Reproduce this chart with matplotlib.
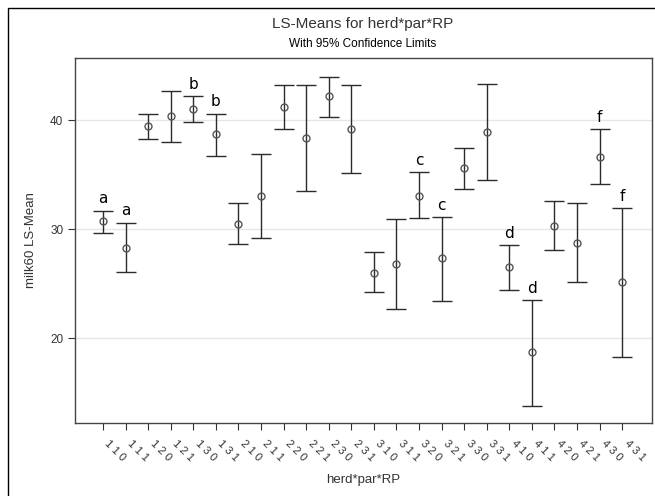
import matplotlib
matplotlib.use("Agg")
import matplotlib.pyplot as plt
from matplotlib.patches import Rectangle

# herd*par*RP levels
levels = ["1 1 0", "1 1 1", "1 2 0", "1 2 1", "1 3 0", "1 3 1",
          "2 1 0", "2 1 1", "2 2 0", "2 2 1", "2 3 0", "2 3 1",
          "3 1 0", "3 1 1", "3 2 0", "3 2 1", "3 3 0", "3 3 1",
          "4 1 0", "4 1 1", "4 2 0", "4 2 1", "4 3 0", "4 3 1"]

# LS-means and 95% limits
means = [30.7, 28.3, 39.5, 40.4, 41.0, 38.7,
         30.5, 33.0, 41.2, 38.4, 42.2, 39.2,
         26.0, 26.8, 33.0, 27.3, 35.6, 38.9,
         26.5, 18.7, 30.3, 28.7, 36.6, 25.1]
upper = [31.7, 30.6, 40.6, 42.7, 42.2, 40.6,
         32.4, 36.9, 43.2, 43.2, 44.0, 43.2,
         27.9, 30.9, 35.2, 31.1, 37.4, 43.3,
         28.5, 23.5, 32.6, 32.4, 39.2, 31.9]
lower = [29.6, 26.1, 38.3, 38.0, 39.8, 36.7,
         28.6, 29.2, 39.2, 33.5, 40.3, 35.1,
         24.2, 22.7, 31.0, 23.4, 33.7, 34.5,
         24.4, 13.8, 28.1, 25.1, 34.1, 18.3]

# grouping letters shown above some bars
letters = {0: "a", 1: "a", 4: "b", 5: "b", 14: "c", 15: "c",
           18: "d", 19: "d", 22: "f", 23: "f"}

plt.rcParams['font.family'] = ['Liberation Sans', 'DejaVu Sans']

fig = plt.figure(figsize=(6.55, 4.96), dpi=100)
ax = fig.add_axes([75/655, 1 - 423/496, 577/655, 365/496])

x = list(range(len(levels)))
yerr = [[m - l for m, l in zip(means, lower)], [u - m for m, u in zip(means, upper)]]
ax.errorbar(x, means, yerr=yerr, fmt='o', mfc='none', mec='#555555', ms=5, mew=1,
            ecolor='#2b2b2b', elinewidth=1, capsize=7, capthick=1, zorder=3)

for i, lab in letters.items():
    ax.annotate(lab, (i, upper[i]), xytext=(0, 3), textcoords='offset points',
                ha='center', va='bottom', fontsize=11, family='DejaVu Sans', color='black')

ax.set_xlim(-1.24, 24.32)
ax.set_ylim(12.2, 45.7)
ax.set_yticks([20, 30, 40])
ax.yaxis.grid(True, color='#e6e6e6', linewidth=1)
ax.set_axisbelow(True)

ax.set_xticks(x)
ax.set_xticklabels(levels, rotation=-45, ha='left', va='top', fontsize=8)
ax.tick_params(axis='both', direction='out', length=5, color='#333333',
               labelsize=8.5, labelcolor='#333333')
ax.tick_params(axis='x', pad=6, labelsize=8)
for s in ax.spines.values():
    s.set_color('#444444')
    s.set_linewidth(1)

ax.set_xlabel('herd*par*RP', fontsize=9.5, color='#333333', labelpad=8)
ax.set_ylabel('milk60 LS-Mean', fontsize=9.5, color='#333333', labelpad=9)

fig.text(363/655, 1 - 24/496, 'LS-Means for herd*par*RP', ha='center', va='center',
         fontsize=11, color='#333333')
fig.text(363/655, 1 - 44/496, 'With 95% Confidence Limits', ha='center', va='center',
         fontsize=8.5, color='black')

# outer frame (left and top edges visible)
fig.patches.append(Rectangle((8/655, -0.1), 1.2, 1.1 - 8/496, transform=fig.transFigure,
                             fill=False, edgecolor='black', linewidth=1))

fig.savefig('out.png', dpi=100)
